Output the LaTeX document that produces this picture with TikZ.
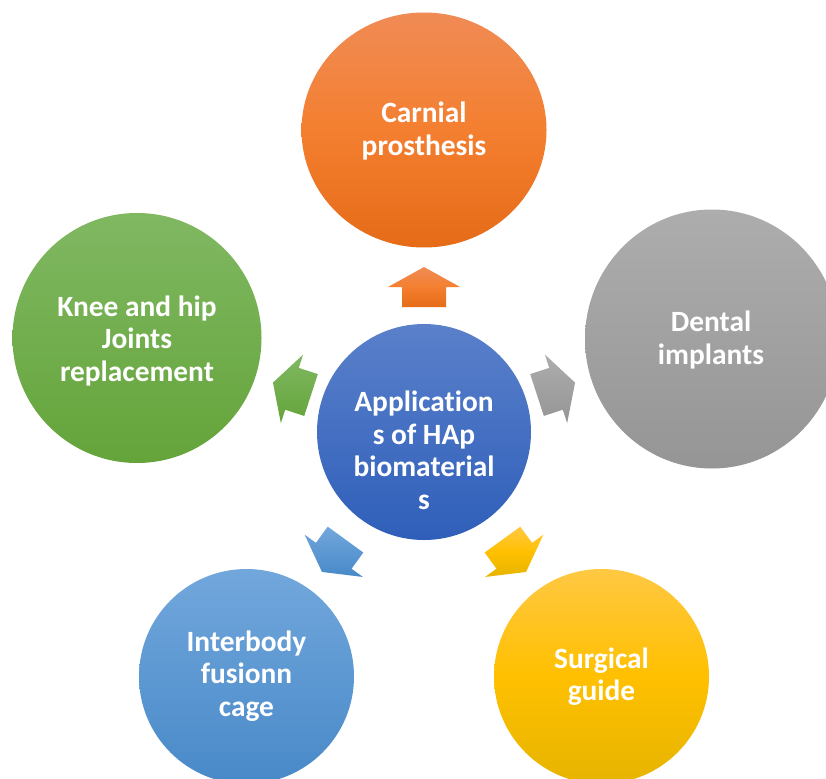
\documentclass[tikz,border=0pt]{standalone}
\usepackage{fontspec}
\setmainfont{Carlito}[Ligatures=CommonOff]
\usetikzlibrary{shapes.geometric}
\definecolor{orTop}{HTML}{F08B55}
\definecolor{orMid}{HTML}{F47F30}
\definecolor{orBot}{HTML}{E56B17}
\definecolor{grTop}{HTML}{ADADAD}
\definecolor{grBot}{HTML}{959595}
\definecolor{gnTop}{HTML}{80B862}
\definecolor{gnBot}{HTML}{64A43A}
\definecolor{blTop}{HTML}{72A7DC}
\definecolor{blBot}{HTML}{4889C8}
\definecolor{ylTop}{HTML}{FFC843}
\definecolor{ylMid}{HTML}{FFC000}
\definecolor{ylBot}{HTML}{E6B400}
\definecolor{hbTop}{HTML}{5A80CA}
\definecolor{hbBot}{HTML}{2F5FBA}
\tikzset{
  blob/.style={ellipse, inner sep=0pt, draw=none},
  lbl/.style={text=white, font=\fontsize{29.4}{32.5}\selectfont\bfseries, align=center, inner sep=0pt},
  orangeF/.style={top color=orTop, bottom color=orBot, middle color=orMid},
  grayF/.style={top color=grTop, bottom color=grBot},
  greenF/.style={top color=gnTop, bottom color=gnBot},
  blueF/.style={top color=blTop, bottom color=blBot},
  yellowF/.style={top color=ylTop, bottom color=ylBot, middle color=ylMid},
  hubF/.style={top color=hbTop, bottom color=hbBot},
}
\newcommand\radarrow[4]{%
  \path[#4, shift={(#1,#2)}, rotate=#3]
    (0,-22) -- (20,-22) -- (20,-36) -- (40,0) -- (20,36) -- (20,22) -- (0,22) -- cycle;}
\begin{document}
\begin{tikzpicture}[x=1pt,y=-1pt]
\useasboundingbox (0,0) rectangle (826,778);
\fill[white] (0,0) rectangle (826,778);
\clip (0,0) rectangle (826,778);
% outer circles
\node[blob, orangeF, minimum width=245pt, minimum height=235pt] (carnial) at (424,130) {};
\node[lbl] (carnialT) at (424,131) {Carnial\\prosthesis};
\node[blob, grayF, minimum width=254pt, minimum height=259pt] (dental) at (712,339) {};
\node[lbl] (dentalT) at (711,340) {Dental\\implants};
\node[blob, greenF, minimum width=249pt, minimum height=250pt] (knee) at (137,338) {};
\node[lbl] (kneeT) at (137,340.5) {Knee and hip\\Joints\\replacement};
\node[blob, blueF, minimum width=215pt, minimum height=215pt] (cage) at (246.5,676.5) {};
\node[lbl] (cageT) at (246.5,676) {Interbody\\fusionn\\cage};
\node[blob, yellowF, minimum width=215pt, minimum height=215pt] (guide) at (601.5,676.5) {};
\node[lbl] (guideT) at (601.5,676.5) {Surgical\\guide};
% hub
\node[blob, hubF, minimum width=214pt, minimum height=216pt] (hub) at (424,432) {};
\node[lbl] (hubT) at (424,450.5) {Applicat\kern0pt ion\\s of HAp\\biomaterial\\s};
% arrows
\radarrow{424}{307}{90}{orangeF}
\radarrow{537}{395}{18}{grayF}
\radarrow{311}{395}{162}{greenF}
\radarrow{345.5}{539.6}{-126}{blueF}
\radarrow{502.5}{539.6}{-54}{yellowF}
\end{tikzpicture}
\end{document}
